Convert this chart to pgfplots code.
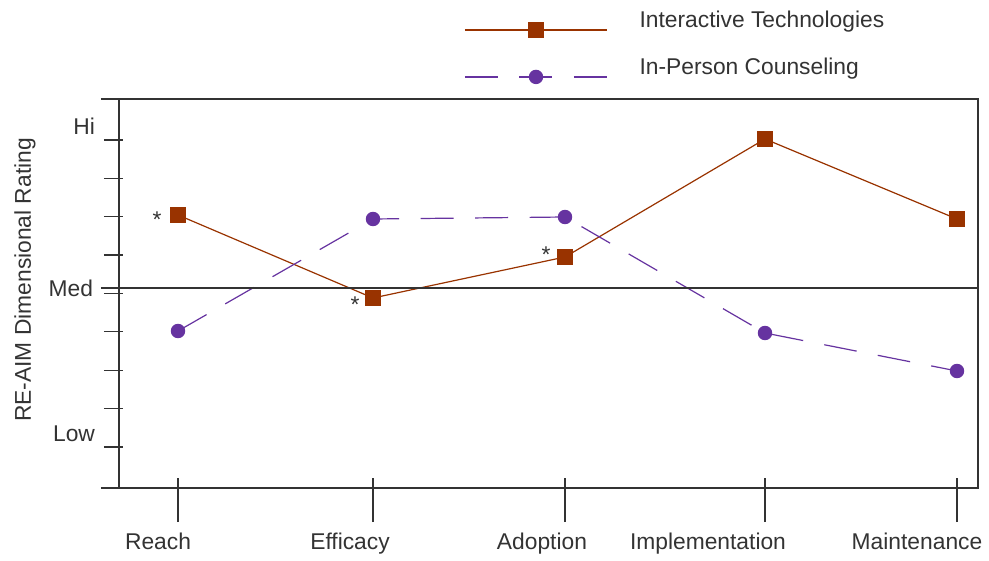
\documentclass[border=0pt]{standalone}
\usepackage{fontspec}
\setmainfont{Liberation Sans}
\usepackage{pgfplots}
\pgfplotsset{compat=1.18}

\definecolor{itbrown}{RGB}{153,51,0}
\definecolor{ippurple}{RGB}{102,51,160}
\definecolor{axisgray}{RGB}{51,51,51}

% coordinates are the picture's pixels: x to the right, y = 488 - row
\begin{document}
\begin{tikzpicture}
\begin{axis}[
    x=0.5bp, y=0.5bp,
    xmin=119, xmax=978,
    ymin=0, ymax=389,
    clip=false,
    axis line style={axisgray, line width=0.7bp},
    tick style={axisgray, line width=0.6bp},
    tick align=center,
    xtick pos=left, ytick pos=left,
    xtick={178,373,565,765,957},
    xticklabels={},
    xtick style={/pgfplots/major tick length=22bp, yshift=-6bp},
    ytick={41,79.4,117.8,156.1,194.5,232.9,271.3,309.6,348},
    yticklabels={},
    ytick style={/pgfplots/major tick length=9.5bp, xshift=-2.75bp},
    font=\fontsize{11.4bp}{13bp}\selectfont,
    legend style={draw=none, fill=none, at={(axis cs:458,481)}, anchor=north west,
        text=axisgray, nodes={inner sep=0pt, anchor=base west}, column sep=16bp, row sep=10.5bp},
    legend cell align=left,
    legend image code/.code={
        \draw[#1, mark=none] (0bp,-1bp) -- (71bp,-1bp);
        \draw[#1, only marks] plot coordinates {(35.5bp,-1bp)};
    },
]
\addplot[itbrown, line width=0.6bp, mark=square*, mark size=3.75bp,
    mark options={solid}] coordinates {
    (178,273) (373,190) (565,231) (765,349) (957,269)
};
\addlegendentry{Interactive Technologies}
\addplot[ippurple, line width=0.6bp, dash pattern=on 16.5bp off 10.75bp,
    mark=*, mark size=3.3bp, mark options={solid}] coordinates {
    (178,157) (373,269) (565,271) (765,155) (957,117)
};
\addlegendentry{In-Person Counseling}

% medium reference line and frame extensions
\draw[axisgray, line width=0.7bp] (axis cs:101,200) -- (axis cs:978,200);
\draw[axisgray, line width=0.7bp] (axis cs:101,389) -- (axis cs:119,389);
\draw[axisgray, line width=0.7bp] (axis cs:101,0) -- (axis cs:119,0);

% rating labels
\node[text=axisgray, anchor=east] at (axis cs:102,362) {Hi};
\node[text=axisgray, anchor=east] at (axis cs:100,200) {Med};
\node[text=axisgray, anchor=east] at (axis cs:102,54) {Low};
\node[text=axisgray, rotate=90] at (axis cs:25,208) {RE-AIM Dimensional Rating};

% category labels
\node[text=axisgray, anchor=base] at (axis cs:158,-61) {Reach};
\node[text=axisgray, anchor=base] at (axis cs:350,-61) {Efficacy};
\node[text=axisgray, anchor=base] at (axis cs:542,-61) {Adoption};
\node[text=axisgray, anchor=base] at (axis cs:708,-61) {Implementation};
\node[text=axisgray, anchor=base] at (axis cs:917,-61) {Maintenance};

% significance marks
\node[text=axisgray] at (axis cs:157,268) {*};
\node[text=axisgray] at (axis cs:355,183) {*};
\node[text=axisgray] at (axis cs:546,233) {*};

% page extent
\path (axis cs:0,-69) rectangle (axis cs:989,488);
\end{axis}
\end{tikzpicture}
\end{document}
